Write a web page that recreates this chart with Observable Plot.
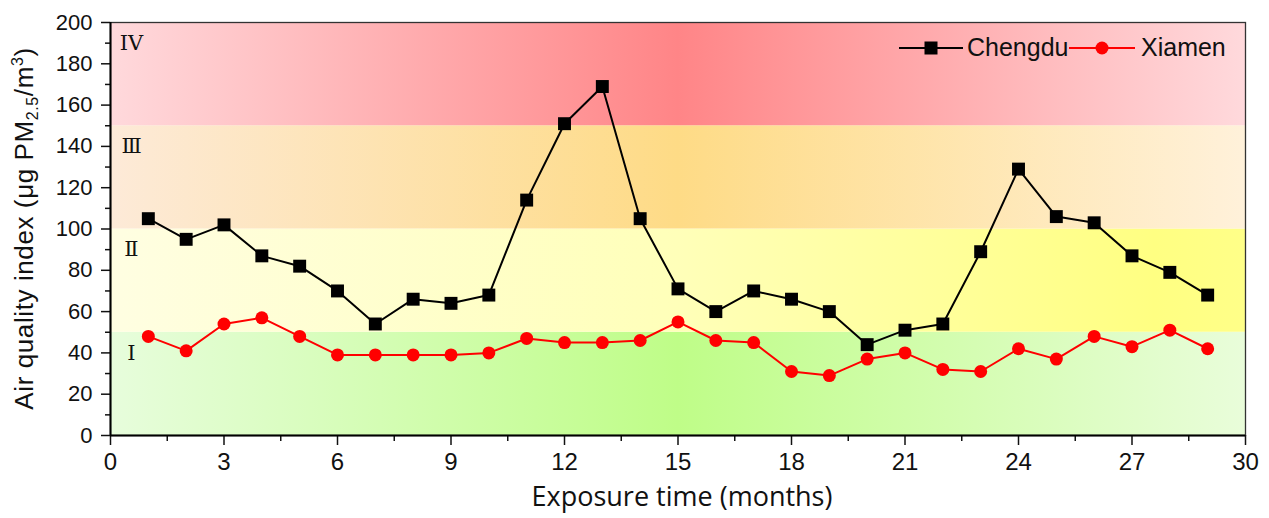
<!DOCTYPE html>
<html>
<head>
<meta charset="utf-8">
<script src="https://cdn.jsdelivr.net/npm/d3@7"></script>
<script src="https://cdn.jsdelivr.net/npm/@observablehq/plot@0.6"></script>
<style>
  html, body { margin: 0; padding: 0; background: #fff; }
</style>
</head>
<body>
<div id="chart"></div>
<script>
// ---- data ----
const months = [1,2,3,4,5,6,7,8,9,10,11,12,13,14,15,16,17,18,19,20,21,22,23,24,25,26,27,28,29];
const chengdu = [105,95,102,87,82,70,54,66,64,68,114,151,169,105,71,60,70,66,60,44,51,54,89,129,106,103,87,79,68];
const xiamen  = [48,41,54,57,48,39,39,39,39,40,47,45,45,46,55,46,45,31,29,37,40,32,31,42,37,48,43,51,42];
const seriesNames = ["Chengdu", "Xiamen"];
const seriesColors = ["#000000", "#ff0000"];
const seriesSymbols = ["square", "circle"];
const zoneNames = ["Ⅰ", "Ⅱ", "Ⅲ", "IV"];
const zoneLow  = [0, 50, 100, 150];
const zoneHigh = [50, 100, 150, 200];
const xTicks = [0,3,6,9,12,15,18,21,24,27,30];
const xMinor = [1.5,4.5,7.5,10.5,13.5,16.5,19.5,22.5,25.5,28.5];
const yTicks = [0,20,40,60,80,100,120,140,160,180,200];
const yMinor = [10,30,50,70,90,110,130,150,170,190];

// gradient stops per zone (styles)
const zoneGradients = [
  [[0,"#e7fddc"],[0.5,"#bffd88"],[1,"#e9fdda"]],
  [[0,"#fffee2"],[0.5,"#ffffb9"],[0.92,"#ffff82"],[1,"#ffff88"]],
  [[0,"#fdead8"],[0.5,"#fedb86"],[1,"#fff1da"]],
  [[0,"#ffd9dc"],[0.5,"#ff8587"],[1,"#ffd9dc"]]
];

const zones = zoneNames.map((n, i) => ({name: n, lo: zoneLow[i], hi: zoneHigh[i], fill: `url(#zone${i})`}));
const rows = seriesNames.flatMap((s, k) =>
  months.map((m, i) => ({series: s, month: m, value: (k === 0 ? chengdu : xiamen)[i]})));

const defsMark = () => {
  const defs = d3.create("svg:defs");
  zoneGradients.forEach((stops, i) => {
    const g = defs.append("linearGradient").attr("id", `zone${i}`)
      .attr("x1", 0).attr("x2", 1).attr("y1", 0).attr("y2", 0);
    stops.forEach(([o, c]) => g.append("stop").attr("offset", o).attr("stop-color", c));
  });
  return defs.node();
};

const legendMark = (index, scales, values, dims) => {
  const g = d3.create("svg:g");
  const right = dims.width - dims.marginRight;
  const y = dims.marginTop + 26;
  const items = [
    {x0: right - 346, w: 64, tx: right - 278},
    {x0: right - 176, w: 66, tx: right - 104}
  ];
  seriesNames.forEach((s, i) => {
    const it = items[i];
    g.append("line").attr("x1", it.x0).attr("x2", it.x0 + it.w).attr("y1", y).attr("y2", y)
      .attr("stroke", seriesColors[i]).attr("stroke-width", 2);
    if (seriesSymbols[i] === "square") {
      g.append("rect").attr("x", it.x0 + it.w/2 - 6.5).attr("y", y - 6.5)
        .attr("width", 13).attr("height", 13).attr("fill", seriesColors[i]);
    } else {
      g.append("circle").attr("cx", it.x0 + it.w/2).attr("cy", y).attr("r", 6.5)
        .attr("fill", seriesColors[i]);
    }
    g.append("text").attr("x", it.tx).attr("y", y + 8)
      .attr("text-anchor", "start")
      .attr("font-family", "Liberation Sans, Arial, sans-serif").attr("font-size", 25)
      .attr("fill", "#111").text(s);
  });
  return g.node();
};

const chart = Plot.plot({
  width: 1269,
  height: 518,
  marginLeft: 110,
  marginRight: 24,
  marginTop: 22,
  marginBottom: 83,
  x: {domain: [0, 30]},
  y: {domain: [0, 200]},
  color: {type: "identity"},
  style: {fontFamily: "Liberation Sans, Arial, sans-serif", color: "#111", background: "#fff"},
  marks: [
    defsMark,
    Plot.rectY(zones, {y1: "lo", y2: "hi", fill: "fill"}),
    Plot.text(zones, {y: d => d.hi - 10, text: "name", frameAnchor: "left", dx: 21,
      textAnchor: "middle", fontFamily: "DejaVu Serif, Liberation Serif, serif", fontSize: 21, fill: "#111"}),
    Plot.line(rows, {x: "month", y: "value", z: "series",
      stroke: d => seriesColors[seriesNames.indexOf(d.series)], strokeWidth: 2}),
    Plot.dot(rows.filter(d => d.series === "Chengdu"), {x: "month", y: "value", symbol: "square", r: 7.3, fill: "#000", stroke: "none"}),
    Plot.dot(rows.filter(d => d.series === "Xiamen"), {x: "month", y: "value", symbol: "circle", r: 6.5, fill: "#ff0000", stroke: "none"}),
    Plot.frame({stroke: "#333", strokeWidth: 1.3}),
    Plot.axisY({ticks: yTicks, tickSize: 9, tickPadding: 9, fontSize: 22, label: null, strokeWidth: 1.5}),
    Plot.axisY({ticks: yMinor, tickSize: 5, tickFormat: () => "", label: null, strokeWidth: 1.5}),
    Plot.axisX({ticks: xTicks, tickSize: 10, tickPadding: 7, fontSize: 24, label: null, strokeWidth: 1.5}),
    Plot.axisX({ticks: xMinor, tickSize: 6, tickFormat: () => "", label: null, strokeWidth: 1.5}),
    Plot.ruleX([0], {stroke: "#000", strokeWidth: 2}),
    Plot.ruleY([0], {stroke: "#000", strokeWidth: 2}),
    legendMark
  ]
});

const svg = d3.select(chart);
// x axis title
svg.append("text")
  .attr("x", 682).attr("y", 506)
  .attr("text-anchor", "middle")
  .attr("font-family", "Open Sans, sans-serif").attr("font-size", 27)
  .attr("fill", "#111")
  .text("Exposure time (months)");
// y axis title with sub/superscripts
const yt = svg.append("text")
  .attr("transform", `translate(33, ${22 + (518 - 22 - 83) / 2}) rotate(-90)`)
  .attr("text-anchor", "middle")
  .attr("letter-spacing", 0.6)
  .attr("font-family", "Liberation Sans, Arial, sans-serif").attr("font-size", 26)
  .attr("fill", "#111");
yt.append("tspan").text("Air quality index (μg PM");
yt.append("tspan").attr("font-size", 16).attr("dy", 5).text("2.5");
yt.append("tspan").attr("dy", -5).text("/m");
yt.append("tspan").attr("font-size", 16).attr("dy", -10).text("3");
yt.append("tspan").attr("dy", 10).text(")");

document.getElementById("chart").appendChild(chart);
</script>
</body>
</html>
